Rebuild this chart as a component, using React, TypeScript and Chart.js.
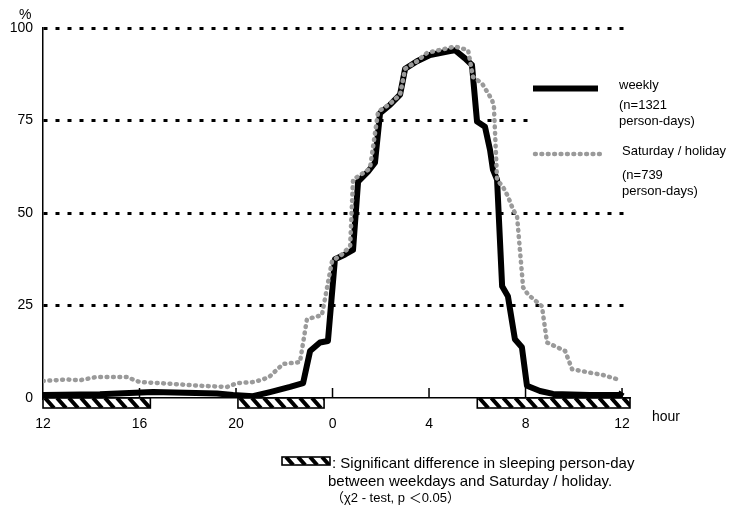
import { useEffect, useRef } from "react";
import { Chart, registerables } from "chart.js";

Chart.register(...registerables);

// hours since 12:00 (noon) -> percentage of persons sleeping
const weekdayHours = [
  0.0, 2.36, 4.56, 7.21, 7.88, 8.7, 9.41, 10.24, 10.78, 11.07, 11.48, 11.81,
  12.1, 12.52, 12.85, 13.06, 13.47, 13.76, 13.97, 14.38, 14.8, 15.01, 15.5,
  16.04, 16.87, 17.08, 17.49, 17.78, 17.99, 18.32, 18.53, 18.65, 18.82, 19.03,
  19.27, 19.56, 19.85, 20.06, 20.6, 21.14, 22.67, 23.92, 24.0,
];
const weekdayValues = [
  0.8, 1.0, 1.6, 1.2, 0.8, 0.5, 1.6, 3.0, 4.0, 12.7, 15.0, 15.4,
  37.5, 38.8, 40.0, 58.5, 61.2, 63.6, 77.0, 79.2, 82.0, 89.0, 91.0,
  92.7, 93.8, 94.0, 91.8, 90.0, 74.7, 73.3, 67.0, 61.7, 59.0, 30.2,
  27.5, 15.9, 13.7, 3.3, 1.9, 1.1, 0.8, 0.8, 1.6,
];

const holidayHours = [
  0.0, 0.99, 1.53, 2.24, 3.48, 3.73, 4.02, 5.14, 6.51, 7.63, 8.04, 8.7, 9.12,
  9.41, 9.95, 10.65, 10.94, 11.56, 11.98, 12.39, 12.73, 12.85, 13.55, 13.89,
  14.38, 14.8, 15.01, 15.5, 15.92, 17.08, 17.62, 17.82, 18.2, 18.61, 18.69,
  18.82, 19.07, 19.27, 19.48, 19.65, 19.9, 20.1, 20.68, 20.89, 21.64, 21.93,
  22.55, 23.21, 23.79,
];
const holidayValues = [
  4.6, 5.0, 4.8, 5.7, 5.7, 5.0, 4.3, 3.9, 3.3, 3.0, 4.0, 4.3, 5.0,
  5.9, 9.2, 9.7, 21.3, 22.4, 37.0, 38.8, 41.0, 59.0, 62.0, 77.4,
  79.5, 82.0, 89.0, 91.0, 93.3, 95.0, 94.0, 86.8, 85.0, 80.6, 78.7,
  59.0, 57.0, 54.5, 51.0, 49.0, 29.9, 28.0, 24.8, 15.0, 12.7, 7.8,
  7.0, 6.2, 5.1,
];

const xTickHours = [0, 4, 8, 12, 16, 20, 24];
const xTickLabels = ["12", "16", "20", "0", "4", "8", "12"];
const yTickValues = [0, 25, 50, 75, 100];
// periods with a significant difference (hours since noon)
const hatchRanges: [number, number][] = [
  [0, 4.45],
  [8.08, 11.65],
  [18.0, 24.33],
];
const X_MAX = 24.33;

const FONT = "'Liberation Sans', Arial, 'Noto Sans CJK JP', sans-serif";
const GRAY = "#9a9a9a";
const DOTS = [0.8, 5.6];

function drawHatch(ctx: CanvasRenderingContext2D, x0: number, y0: number, w: number, h: number) {
  ctx.save();
  ctx.fillStyle = "#fff";
  ctx.fillRect(x0, y0, w, h);
  ctx.beginPath();
  ctx.rect(x0, y0, w, h);
  ctx.clip();
  ctx.strokeStyle = "#000";
  ctx.lineWidth = 4;
  ctx.beginPath();
  for (let x = x0 - h; x < x0 + w + h; x += 12) {
    ctx.moveTo(x, y0);
    ctx.lineTo(x + h * 0.9, y0 + h);
  }
  ctx.stroke();
  ctx.restore();
  ctx.save();
  ctx.strokeStyle = "#000";
  ctx.lineWidth = 1.6;
  ctx.strokeRect(x0, y0, w, h);
  ctx.restore();
}

const decorPlugin = {
  id: "decor",
  afterDatasetsDraw(chart: any) {
    const ctx: CanvasRenderingContext2D = chart.ctx;
    const xs = chart.scales.x;
    const area = chart.chartArea;
    const base = area.bottom;

    // hatched bars below the axis
    hatchRanges.forEach(([a, b]) => {
      const x0 = xs.getPixelForValue(a);
      const x1 = xs.getPixelForValue(b);
      drawHatch(ctx, x0, base, x1 - x0, 10);
    });

    // inward tick marks
    ctx.save();
    ctx.strokeStyle = "#000";
    ctx.lineWidth = 1.5;
    ctx.beginPath();
    xTickHours.forEach((h) => {
      if (h === 0) return;
      const x = xs.getPixelForValue(h);
      ctx.moveTo(x, base);
      ctx.lineTo(x, base - 10);
    });
    ctx.stroke();
    ctx.restore();

    ctx.save();
    ctx.fillStyle = "#000";
    ctx.textBaseline = "middle";
    ctx.textAlign = "left";

    // axis titles
    ctx.font = `14px ${FONT}`;
    ctx.fillText("%", 19, 15);
    ctx.fillText("hour", 652, 417);

    // legend
    ctx.fillStyle = "#fff";
    ctx.fillRect(528, 70, 202, 135);
    ctx.strokeStyle = "#000";
    ctx.lineWidth = 6;
    ctx.beginPath();
    ctx.moveTo(533, 88.5);
    ctx.lineTo(598, 88.5);
    ctx.stroke();
    ctx.strokeStyle = GRAY;
    ctx.lineWidth = 4.5;
    ctx.lineCap = "round";
    ctx.setLineDash(DOTS);
    ctx.beginPath();
    ctx.moveTo(535, 154);
    ctx.lineTo(601, 154);
    ctx.stroke();
    ctx.setLineDash([]);
    ctx.lineCap = "butt";

    ctx.fillStyle = "#000";
    ctx.font = `13px ${FONT}`;
    ctx.fillText("weekly", 619, 85);
    ctx.fillText("(n=1321", 619, 105);
    ctx.fillText("person-days)", 619, 121);
    ctx.fillText("Saturday / holiday", 622, 151);
    ctx.fillText("(n=739", 622, 175);
    ctx.fillText("person-days)", 622, 191);

    // bottom note
    drawHatch(ctx, 282, 457, 48, 8);
    ctx.fillStyle = "#000";
    ctx.font = `15px ${FONT}`;
    ctx.fillText(": Significant difference in sleeping person-day", 332, 464);
    ctx.fillText("between weekdays and Saturday / holiday.", 328, 482);
    ctx.font = `13px ${FONT}`;
    ctx.fillText("（χ2 - test, p ＜0.05）", 331, 498);
    ctx.restore();
  },
};

export default function App() {
  const canvasRef = useRef<HTMLCanvasElement | null>(null);

  useEffect(() => {
    if (!canvasRef.current) return;
    const chart = new Chart(canvasRef.current, {
      type: "line",
      data: {
        datasets: [
          {
            label: "Saturday / holiday",
            data: holidayHours.map((x, i) => ({ x, y: holidayValues[i] })),
            borderColor: GRAY,
            borderWidth: 4.5,
            borderDash: DOTS,
            borderCapStyle: "round",
            pointRadius: 0,
            tension: 0,
            order: 0,
          },
          {
            label: "weekly",
            data: weekdayHours.map((x, i) => ({ x, y: weekdayValues[i] })),
            borderColor: "#000",
            borderWidth: 6,
            borderJoinStyle: "round",
            pointRadius: 0,
            tension: 0,
            order: 1,
          },
        ],
      },
      options: {
        responsive: false,
        animation: false,
        layout: { padding: { left: 0, top: 28, right: 100, bottom: 0 } },
        plugins: { legend: { display: false }, tooltip: { enabled: false } },
        scales: {
          x: {
            type: "linear",
            min: 0,
            max: X_MAX,
            afterBuildTicks: (s: any) => {
              s.ticks = xTickHours.map((v) => ({ value: v }));
            },
            afterFit: (s: any) => {
              s.height = 109;
            },
            grid: { display: false },
            border: { display: true, color: "#000", width: 1.5 },
            ticks: {
              autoSkip: false,
              maxRotation: 0,
              padding: 10,
              color: "#000",
              font: { family: FONT, size: 14 },
              callback: (_v: any, i: number) => xTickLabels[i],
            },
          },
          y: {
            min: 0,
            max: 100,
            afterBuildTicks: (s: any) => {
              s.ticks = yTickValues.map((v) => ({ value: v }));
            },
            afterFit: (s: any) => {
              s.width = 43;
            },
            grid: {
              drawTicks: false,
              lineWidth: 3,
              color: (c: any) => (c.tick && c.tick.value === 0 ? "rgba(0,0,0,0)" : "#000"),
            },
            border: { display: true, color: "#000", width: 1.5, dash: [4, 8] },
            ticks: {
              padding: 10,
              color: "#000",
              font: { family: FONT, size: 14 },
              callback: (v: any) => String(v),
            },
          },
        },
      },
      plugins: [decorPlugin],
    } as any);
    return () => chart.destroy();
  }, []);

  return (
    <div style={{ position: "fixed", left: 0, top: 0, width: 730, height: 507, background: "#fff" }}>
      <canvas ref={canvasRef} width={730} height={507} />
    </div>
  );
}
